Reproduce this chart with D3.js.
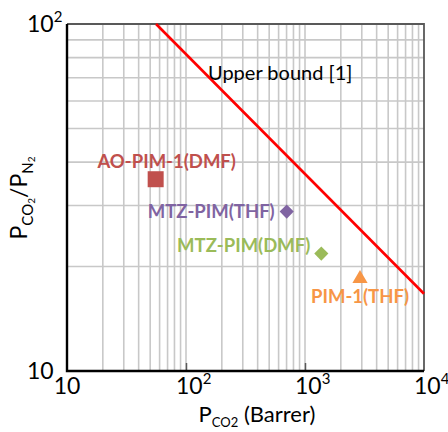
<!DOCTYPE html>
<html>
<head>
<meta charset="utf-8">
<script src="https://cdn.jsdelivr.net/npm/d3@7"></script>
<style>
    html, body { margin: 0; padding: 0; background: #fff; }
    svg { display: block; }
    text { font-family: Lato, "Open Sans", sans-serif; }
</style>
</head>
<body>
<div id="chart"></div>
<script>
// membranes: CO2 permeability (Barrer) vs CO2/N2 selectivity
const names = ["AO-PIM-1(DMF)", "MTZ-PIM(THF)", "MTZ-PIM(DMF)", "PIM-1(THF)"]
const permeability = [55.6, 702, 1371, 2899]
const selectivity = [35.7, 28.8, 21.8, 18.45]
const colors = ["#c0504d", "#8064a2", "#9bbb59", "#f79646"]
const shapes = ["square", "diamond", "diamond", "triangle"]

// Robeson upper bound, two end points
const boundP = [56, 10000]
const boundA = [100, 16.7]

const xTicks = [10, 100, 1000, 10000]
const xExp = ["", "2", "3", "4"]
const yTicks = [10, 100]
const yExp = ["", "2"]
const minors = [2, 3, 4, 5, 6, 7, 8, 9]

const W = 448, H = 432
const box = { left: 67, right: 424, top: 24, bottom: 371 }

// label placement relative to the marker
const labelPos = [
    { dx: 11, dy: -11, anchor: "middle" },
    { dx: -12, dy: 6, anchor: "end" },
    { dx: -11, dy: -2, anchor: "end" },
    { dx: 0, dy: 24, anchor: "middle" }
]

const svg = d3.select("#chart")
    .append("svg")
    .attr("width", W)
    .attr("height", H)

const x = d3.scaleLog().domain([10, 10000]).range([box.left, box.right])
const y = d3.scaleLog().domain([10, 100]).range([box.bottom, box.top])

// minor grid (every 2..9 inside each decade) + decade lines
const xGrid = []
for (let d = 10; d < 10000; d *= 10) {
    minors.forEach(m => xGrid.push(d * m))
    if (d > 10) xGrid.push(d)
}
const yGrid = minors.map(m => 10 * m)

const grid = svg.append("g")
    .attr("stroke", "#c8c8c8")
    .attr("stroke-width", 1.6)

grid.selectAll(".gx")
    .data(xGrid)
    .enter()
    .append("line")
    .attr("x1", d => x(d))
    .attr("x2", d => x(d))
    .attr("y1", box.top)
    .attr("y2", box.bottom)

grid.selectAll(".gy")
    .data(yGrid)
    .enter()
    .append("line")
    .attr("x1", box.left)
    .attr("x2", box.right)
    .attr("y1", d => y(d))
    .attr("y2", d => y(d))

// top & right frame
svg.append("path")
    .attr("d", `M${box.left},${box.top}H${box.right}V${box.bottom}`)
    .attr("fill", "none")
    .attr("stroke", "#595959")
    .attr("stroke-width", 1.8)

// axes (inner ticks at decades)
const xAxis = svg.append("g")
    .attr("transform", `translate(0,${box.bottom})`)
    .call(d3.axisTop(x).tickValues(xTicks.slice(1, 3)).tickSize(8).tickFormat(""))
xAxis.select(".domain").remove()
xAxis.selectAll("line").attr("stroke", "#595959").attr("stroke-width", 1.5)

svg.append("path")
    .attr("d", `M${box.left},${box.top}V${box.bottom}H${box.right}`)
    .attr("fill", "none")
    .attr("stroke", "#000")
    .attr("stroke-width", 2.4)

// upper bound line
svg.append("line")
    .attr("x1", x(boundP[0]))
    .attr("y1", y(boundA[0]))
    .attr("x2", x(boundP[1]))
    .attr("y2", y(boundA[1]))
    .attr("stroke", "#ff0000")
    .attr("stroke-width", 2.6)

svg.append("text")
    .attr("x", 208)
    .attr("y", 80)
    .style("font-size", "20px")
    .attr("fill", "#000")
    .text("Upper bound [1]")

// markers
const symbolFor = {
    square: d3.symbol().type(d3.symbolSquare).size(256),
    diamond: d3.symbol().type(d3.symbolSquare).size(100),
    triangle: d3.symbol().type(d3.symbolTriangle).size(100)
}

const points = names.map((name, i) => ({
    name, p: permeability[i], a: selectivity[i], color: colors[i], shape: shapes[i], pos: labelPos[i]
}))

svg.selectAll(".pt")
    .data(points)
    .enter()
    .append("path")
    .attr("class", "pt")
    .attr("d", d => symbolFor[d.shape]())
    .attr("transform", d => `translate(${x(d.p)},${y(d.a)})` + (d.shape === "diamond" ? " rotate(45)" : ""))
    .attr("fill", d => d.color)

svg.selectAll(".lbl")
    .data(points)
    .enter()
    .append("text")
    .attr("class", "lbl")
    .attr("x", d => x(d.p) + d.pos.dx)
    .attr("y", d => y(d.a) + d.pos.dy)
    .attr("text-anchor", d => d.pos.anchor)
    .attr("fill", d => d.color)
    .style("font-size", "18.5px")
    .style("font-weight", "bold")
    .text(d => d.name)

// tick labels, 10^n
function power(g, base, exp) {
    g.append("tspan").text(base)
    if (exp) g.append("tspan").attr("dy", -10).style("font-size", "15px").text(exp)
}

xTicks.forEach((v, i) => {
    const t = svg.append("text")
        .attr("x", i === 0 ? x(v) : x(v) - 10)
        .attr("y", 394)
        .attr("text-anchor", i === 0 ? "middle" : "start")
        .style("font-size", "23px")
    power(t, "10", xExp[i])
})

yTicks.forEach((v, i) => {
    const t = svg.append("text")
        .attr("x", 27)
        .attr("y", y(v) + 8)
        .style("font-size", "23px")
    power(t, "10", yExp[i])
})

// axis titles
const xt = svg.append("text")
    .attr("x", 257)
    .attr("y", 422)
    .attr("text-anchor", "middle")
    .style("font-size", "22px")
xt.append("tspan").text("P")
xt.append("tspan").attr("dy", 5).style("font-size", "13px").text("CO2")
xt.append("tspan").attr("dy", -5).text(" (Barrer)")

const yt = svg.append("text")
    .attr("transform", "translate(27,198) rotate(-90)")
    .attr("text-anchor", "middle")
    .style("font-size", "23px")
yt.append("tspan").text("P")
yt.append("tspan").attr("dy", 6).style("font-size", "15px").text("CO")
yt.append("tspan").attr("dy", 2).style("font-size", "10px").text("2")
yt.append("tspan").attr("dy", -8).text("/P")
yt.append("tspan").attr("dy", 6).style("font-size", "15px").text("N")
yt.append("tspan").attr("dy", 2).style("font-size", "10px").text("2")
</script>
</body>
</html>
